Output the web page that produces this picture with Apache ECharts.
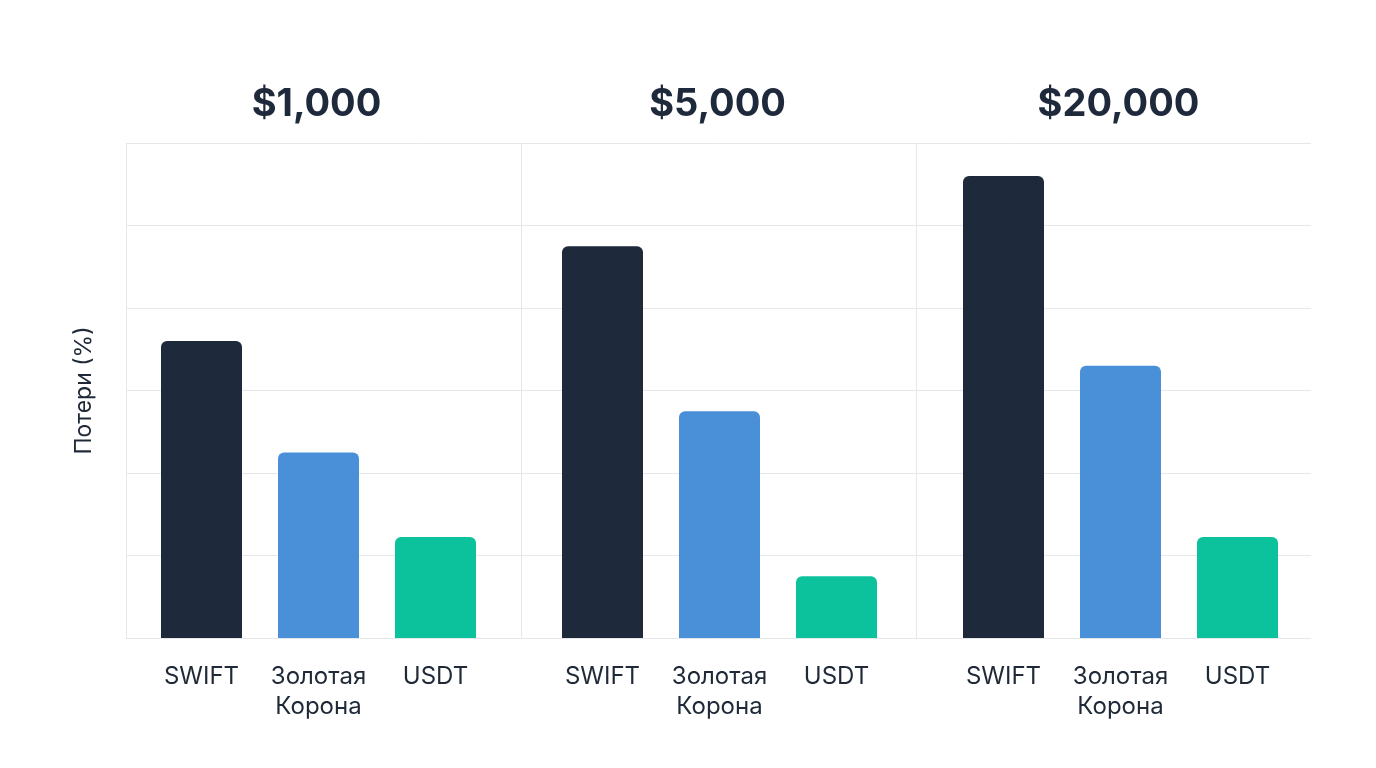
<!DOCTYPE html>
<html>
<head>
<meta charset="utf-8">
<script src="https://cdn.jsdelivr.net/npm/echarts@6/dist/echarts.min.js"></script>
<style>
  html, body { margin: 0; padding: 0; background: #fff; }
  #chart { width: 1376px; height: 768px; }
</style>
</head>
<body>
<div id="chart"></div>
<script>
// amounts sent (panel titles)
const amounts = ["$1,000", "$5,000", "$20,000"];
// transfer methods (x categories)
const methods = ["SWIFT", "Золотая\nКорона", "USDT"];
const methodColors = ["#1e293b", "#4a90d9", "#0cc29c"];
// losses, % (per amount)
const swift = [7.2, 9.5, 11.2];
const zolotayaKorona = [4.5, 5.5, 6.6];
const usdt = [2.45, 1.5, 2.45];

const yMax = 12;
const yInterval = 2;
const gridTop = 143, gridBottom = 130;
const panelLefts = [143, 544, 945];
const panelWidth = 351;

var myChart = echarts.init(document.getElementById("chart"));

var grids = [{ left: 126, right: 65, top: gridTop, bottom: gridBottom }];
var xAxes = [{
  type: "value", gridIndex: 0, min: 0, max: 3, interval: 1,
  axisLine: { show: false }, axisTick: { show: false }, axisLabel: { show: false },
  splitLine: { show: true, showMaxLine: false, lineStyle: { color: "#e5e7eb", width: 1 } }
}];
var yAxes = [{
  type: "value", gridIndex: 0, min: 0, max: yMax, interval: yInterval,
  name: "Потери (%)", nameLocation: "middle", nameGap: 30,
  nameTextStyle: { fontFamily: "Inter", fontSize: 23, color: "#1f2937" },
  axisLine: { show: false }, axisTick: { show: false }, axisLabel: { show: false },
  splitLine: { show: true, lineStyle: { color: "#e5e7eb", width: 1 } }
}];
var titles = [];
var series = [];

amounts.forEach(function (amt, i) {
  var g = i + 1;
  grids.push({ left: panelLefts[i], width: panelWidth, top: gridTop, bottom: gridBottom });
  xAxes.push({
    type: "category", gridIndex: g, data: methods,
    axisLine: { show: false }, axisTick: { show: false },
    axisLabel: { fontFamily: "Inter", fontSize: 24, lineHeight: 30, color: "#1f2937", margin: 24, interval: 0 }
  });
  yAxes.push({ type: "value", gridIndex: g, min: 0, max: yMax, interval: yInterval, show: false });
  titles.push({
    text: amt, left: panelLefts[i] + panelWidth / 2 - 7, top: 81, textAlign: "center",
    textStyle: { fontFamily: "Inter", fontWeight: "bold", fontSize: 38, color: "#1e293b" }
  });
  var vals = [swift[i], zolotayaKorona[i], usdt[i]];
  series.push({
    type: "bar", xAxisIndex: g, yAxisIndex: g, barWidth: 81,
    itemStyle: { borderRadius: [6, 6, 0, 0] },
    data: vals.map(function (v, k) {
      return { value: v, itemStyle: { color: methodColors[k] } };
    })
  });
});

var option = {
  backgroundColor: "#ffffff",
  animation: false,
  title: titles,
  grid: grids,
  xAxis: xAxes,
  yAxis: yAxes,
  series: series
};
myChart.setOption(option);
</script>
</body>
</html>
